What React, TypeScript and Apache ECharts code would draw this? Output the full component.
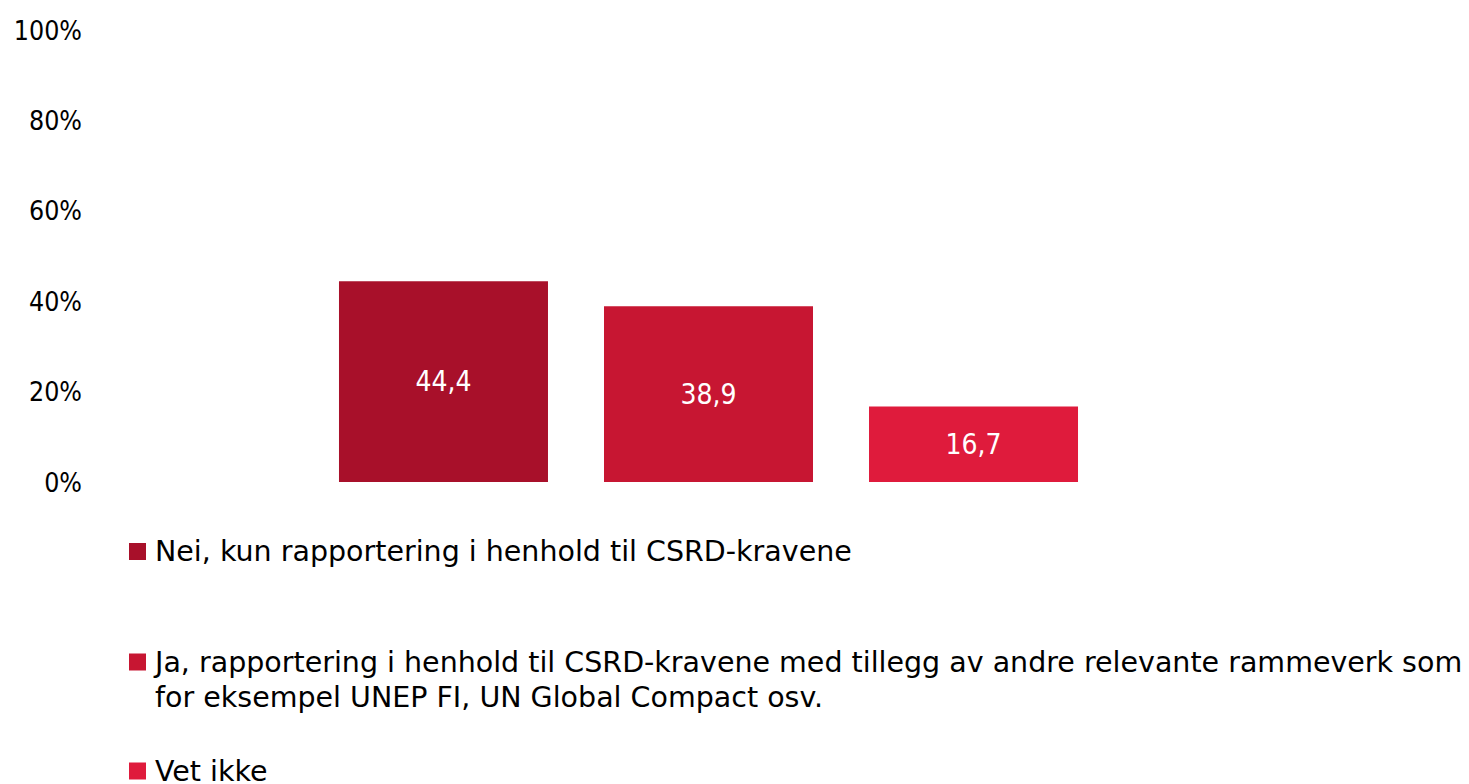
import React, { useEffect, useRef } from "react";
import * as echarts from "echarts";

const seriesNames = [
  "Nei, kun rapportering i henhold til CSRD-kravene",
  "Ja, rapportering i henhold til CSRD-kravene med tillegg av andre relevante rammeverk som for eksempel UNEP FI, UN Global Compact osv.",
  "Vet ikke",
];
const seriesValues = [44.4, 38.9, 16.7];
const seriesColors = ["#A8102A", "#C71632", "#DF1B3C"];
const yTicks = [0, 20, 40, 60, 80, 100];

const FONT_C = "'DejaVu Sans Condensed', 'DejaVu Sans', sans-serif";
const FONT_L = "'DejaVu Sans', sans-serif";

export default function App() {
  const ref = useRef<HTMLDivElement>(null);
  useEffect(() => {
    if (!ref.current) return;
    const chart = echarts.init(ref.current, undefined, { renderer: "svg" });
    const iconTops = [543, 653.5, 762.5];
    const legends = seriesNames.map((name, i) => {
      const twoLine = i === 1;
      return {
        data: [
          {
            name,
            icon: twoLine ? "path://M0,0L17,0L17,17L0,17Z M0,52" : "rect",
          },
        ],
        orient: "vertical",
        left: 129,
        top: iconTops[i] - 9,
        padding: 0,
        itemWidth: 17,
        itemHeight: twoLine ? 52 : 17,
        selectedMode: false,
        formatter: (n: string) =>
          twoLine ? n.replace(" for eksempel", "\nfor eksempel") : n,
        textStyle: {
          fontFamily: FONT_L,
          fontSize: 28.5,
          color: "#000",
          lineHeight: 35,
          padding: [0, 0, 0, 4],
        },
      };
    });
    chart.setOption({
      animation: false,
      backgroundColor: "#fff",
      grid: { left: 95, right: 147, top: 30, bottom: 302, containLabel: false },
      xAxis: {
        type: "category",
        data: [""],
        axisLine: { show: false },
        axisTick: { show: false },
        axisLabel: { show: false },
      },
      yAxis: {
        type: "value",
        min: yTicks[0],
        max: yTicks[yTicks.length - 1],
        interval: 20,
        splitLine: { show: false },
        axisLine: { show: false },
        axisTick: { show: false },
        axisLabel: {
          formatter: "{value}%",
          fontFamily: FONT_C,
          fontSize: 26.5,
          color: "#000",
          margin: 13,
        },
      },
      legend: legends,
      series: seriesNames.map((name, i) => ({
        name,
        type: "bar",
        data: [seriesValues[i]],
        barWidth: 209,
        barGap: "26.8%",
        itemStyle: { color: seriesColors[i] },
        label: {
          show: true,
          position: "inside",
          color: "#fff",
          fontFamily: FONT_C,
          fontSize: 28,
          formatter: (p: any) => String(p.value).replace(".", ","),
        },
      })),
    });
    return () => chart.dispose();
  }, []);
  return (
    <div
      ref={ref}
      style={{ position: "fixed", left: 0, top: 0, width: 1469, height: 784 }}
    />
  );
}
